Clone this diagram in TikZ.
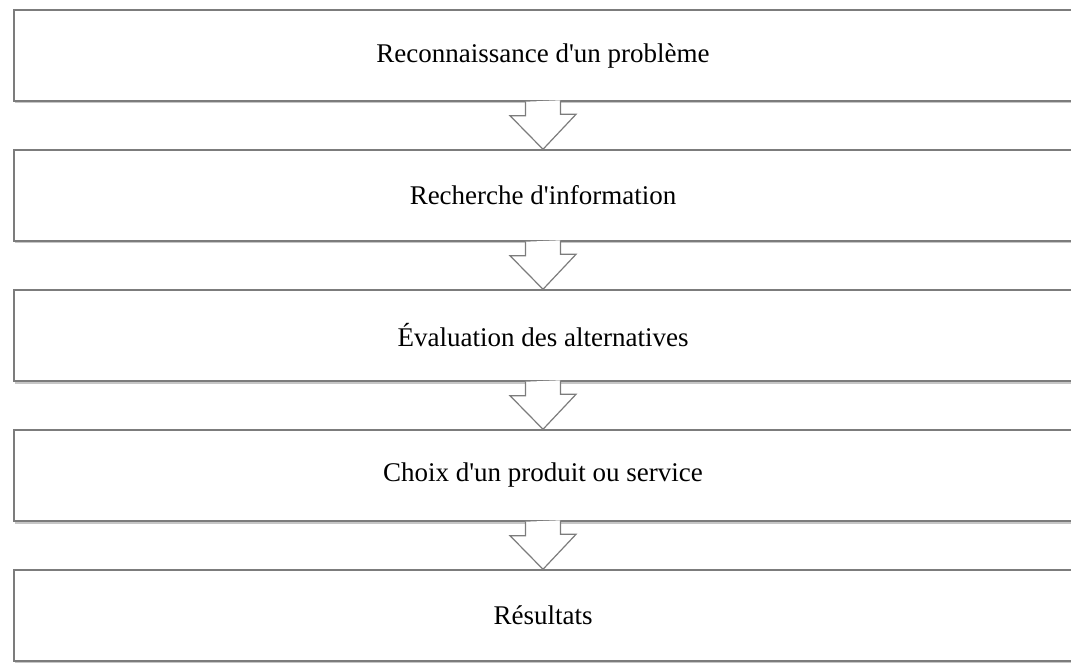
\documentclass[tikz,border=0pt]{standalone}
\usepackage{fontspec}
\setmainfont{Liberation Serif}
\usetikzlibrary{shadows}
\definecolor{boxline}{HTML}{7C7C7C}

\tikzset{
  stepbox/.style={draw=boxline, line width=1.4pt, fill=white,
    minimum width=1058pt, minimum height=91pt, inner sep=0pt,
    font=\fontsize{27}{32}\selectfont,
    drop shadow={shadow xshift=0.5pt, shadow yshift=-2.5pt, opacity=0.45}},
  flowarrow/.style={draw=boxline, line width=1.2pt, line join=miter}
}

\begin{document}
\begin{tikzpicture}[x=1pt,y=-1pt]
\useasboundingbox (0,0) rectangle (1071,663);

% Steps
\node[stepbox] (p1) at (543,55.5) {Reconnaissance d\textquotesingle un problème};
\node[stepbox] (p2) at (543,195.5) {Recherche d\textquotesingle information};
\node[stepbox] (p3) at (543,335.5) {Évaluation des alternatives};
\node[stepbox] (p4) at (543,475.5) {Choix d\textquotesingle un produit ou service};
\node[stepbox] (p5) at (543,615.5) {Résultats};

% Arrows between steps
\foreach \a/\b in {p1/p2,p2/p3,p3/p4,p4/p5} {
    \fill[white] ([xshift=-17.5pt]\a.south) -- ++(0,14) -- ++(-15.5,0)
        -- (\b.north) -- ++(33,-35) -- ++(-15.5,0) -- ++(0,-14) -- cycle;
    \draw[flowarrow] ([xshift=-17.5pt]\a.south) -- ++(0,14) -- ++(-15.5,0)
        -- (\b.north) -- ++(33,-35) -- ++(-15.5,0) -- ++(0,-14);
}
\end{tikzpicture}
\end{document}
